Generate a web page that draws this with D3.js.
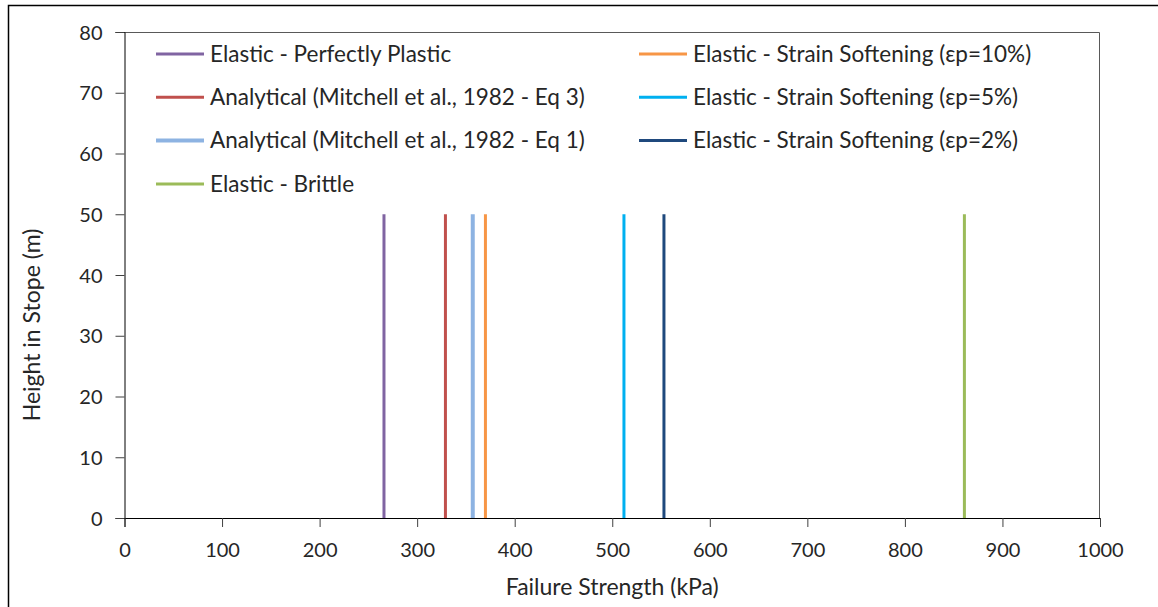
<!DOCTYPE html>
<html>
<head>
<meta charset="utf-8">
<script src="https://cdn.jsdelivr.net/npm/d3@7"></script>
<style>
  body { margin: 0; background: #fff; }
  text { font-family: Lato, "Open Sans", sans-serif; fill: #262626; }
</style>
</head>
<body>
<div id="chart"></div>
<script>
// series names, colours, and the failure strength (kPa) of each vertical line
var seriesNames = [
  "Elastic - Perfectly Plastic",
  "Analytical (Mitchell et al., 1982 - Eq 3)",
  "Analytical (Mitchell et al., 1982 - Eq 1)",
  "Elastic - Brittle",
  "Elastic - Strain Softening (\u03b5p=10%)",
  "Elastic - Strain Softening (\u03b5p=5%)",
  "Elastic - Strain Softening (\u03b5p=2%)"
];
var seriesColors = ["#8064a2", "#c0504d", "#8db3e2", "#9bbb59", "#f79646", "#00b0f0", "#1f497d"];
var strengthValues = [266, 329, 357, 861, 370, 512, 553];
var heightRange = [0, 50];
var xTicks = [0, 100, 200, 300, 400, 500, 600, 700, 800, 900, 1000];
var yTicks = [0, 10, 20, 30, 40, 50, 60, 70, 80];

var W = 1158, H = 607;
var margin = {top: 32, right: 58, bottom: 89, left: 124.5};
var width = W - margin.left - margin.right,
    height = H - margin.top - margin.bottom;

var svg = d3.select("#chart").append("svg").attr("width", W).attr("height", H);

// outer chart border (only left and top visible in the picture)
svg.append("path").attr("d", "M8.5," + H + "V5.5H" + W)
   .style("fill", "none").style("stroke", "#000").style("stroke-width", 1.5);

var x = d3.scaleLinear().domain([0, 1000]).range([0, width]);
var y = d3.scaleLinear().domain([0, 80]).range([height, 0]);

var g = svg.append("g").attr("transform", "translate(" + margin.left + "," + margin.top + ")");

// plot area top and right edges
g.append("path").attr("d", "M0,0.5H" + (width - 0.5) + "V" + height)
  .style("fill", "none").style("stroke", "#595959").style("stroke-width", 1);

var xAxis = d3.axisBottom(x).tickValues(xTicks).tickFormat(d3.format("d")).tickSize(9).tickPadding(16);
var yAxis = d3.axisLeft(y).tickValues(yTicks).tickFormat(d3.format("d")).tickSize(9).tickPadding(13);

var gx = g.append("g").attr("transform", "translate(0," + height + ")").call(xAxis);
var gy = g.append("g").call(yAxis);
[gx, gy].forEach(function(a) {
  a.select(".domain").style("stroke", "#000");
  a.selectAll(".tick line").style("stroke", "#404040");
  a.selectAll(".tick text").style("font-size", "20px").style("font-family", "Lato, sans-serif").style("fill", "#262626");
});
gy.selectAll(".tick text").attr("dy", "0.35em");

// vertical lines
var line = d3.line().x(function(d) { return x(d[0]); }).y(function(d) { return y(d[1]); });
strengthValues.forEach(function(v, i) {
  g.append("path")
    .datum(heightRange.map(function(h) { return [v, h]; }))
    .attr("d", line)
    .style("fill", "none").style("stroke", seriesColors[i])
    .style("stroke-width", i == 2 ? 4 : 3);
});

// axis titles
svg.append("text").attr("x", margin.left + width / 2).attr("y", 595)
   .attr("text-anchor", "middle").style("font-size", "23px").text("Failure Strength (kPa)");
svg.append("text").attr("transform", "translate(40,325) rotate(-90)")
   .attr("text-anchor", "middle").style("font-size", "23px").text("Height in Stope (m)");

// legend: two columns
var legendCols = [[0, 1, 2, 3], [4, 5, 6]];
var colX = [156, 639];
legendCols.forEach(function(col, c) {
  col.forEach(function(si, r) {
    var ly = 54 + r * 43.3;
    svg.append("line").attr("x1", colX[c]).attr("x2", colX[c] + 48)
       .attr("y1", ly).attr("y2", ly)
       .style("stroke", seriesColors[si]).style("stroke-width", si == 2 ? 4 : 3);
    svg.append("text").attr("x", colX[c] + 54).attr("y", ly).attr("dy", "0.35em")
       .style("font-size", "22.5px").text(seriesNames[si]);
  });
});
</script>
</body>
</html>
